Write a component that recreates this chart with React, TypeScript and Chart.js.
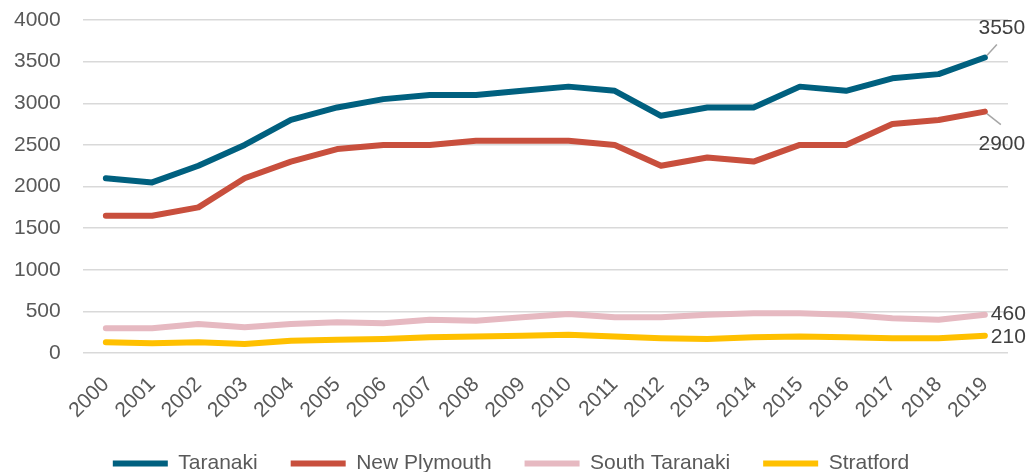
import React, { useEffect, useRef } from "react";
import { Chart, registerables } from "chart.js";

Chart.register(...registerables);

const years = ["2000","2001","2002","2003","2004","2005","2006","2007","2008","2009","2010","2011","2012","2013","2014","2015","2016","2017","2018","2019"];
const taranaki = [2100, 2050, 2250, 2500, 2800, 2950, 3050, 3100, 3100, 3150, 3200, 3150, 2850, 2950, 2950, 3200, 3150, 3300, 3350, 3550];
const newPlymouth = [1650, 1650, 1750, 2100, 2300, 2450, 2500, 2500, 2550, 2550, 2550, 2500, 2250, 2350, 2300, 2500, 2500, 2750, 2800, 2900];
const southTaranaki = [300, 300, 350, 310, 350, 370, 360, 400, 390, 430, 470, 430, 430, 460, 480, 480, 460, 420, 400, 460];
const stratford = [130, 120, 130, 110, 150, 160, 170, 190, 200, 210, 220, 200, 180, 170, 190, 200, 190, 180, 180, 210];
const seriesNames = ["Taranaki", "New Plymouth", "South Taranaki", "Stratford"];
const seriesColors = ["#00607F", "#C84F3D", "#E6B9C1", "#FFC000"];
const yTicks = [0, 500, 1000, 1500, 2000, 2500, 3000, 3500, 4000];

const FONT = "'Liberation Sans', Arial, sans-serif";
const TEXT = "#595959";

// label placement for the last point of each series (style only)
const endLabelStyle = [
  { dx: 17, dy: -29, align: "center", leader: [2, -2, 12, -13] },
  { dx: 17, dy: 33, align: "center", leader: [2, 2, 16, 13] },
  { dx: 6, dy: -1, align: "left", leader: null },
  { dx: 6, dy: 2, align: "left", leader: null },
];

const endLabelsPlugin = {
  id: "endLabels",
  afterDatasetsDraw(chart: any) {
    const ctx = chart.ctx;
    ctx.save();
    chart.data.datasets.forEach((ds: any, i: number) => {
      const meta = chart.getDatasetMeta(i);
      const last = meta.data.length - 1;
      const pt = meta.data[last];
      const st = endLabelStyle[i];
      if (!pt || !st) return;
      if (st.leader) {
        ctx.strokeStyle = "#a6a6a6";
        ctx.lineWidth = 1.5;
        ctx.beginPath();
        ctx.moveTo(pt.x + st.leader[0], pt.y + st.leader[1]);
        ctx.lineTo(pt.x + st.leader[2], pt.y + st.leader[3]);
        ctx.stroke();
      }
      ctx.fillStyle = "#404040";
      ctx.font = `21px ${FONT}`;
      ctx.textAlign = st.align;
      ctx.textBaseline = "middle";
      ctx.fillText(String(ds.data[last]), pt.x + st.dx, pt.y + st.dy);
    });
    ctx.restore();
  },
};

export default function App() {
  const ref = useRef<HTMLCanvasElement | null>(null);
  useEffect(() => {
    if (!ref.current) return;
    const all = [taranaki, newPlymouth, southTaranaki, stratford];
    const chart = new Chart(ref.current, {
      type: "line",
      data: {
        labels: years,
        datasets: all.map((d, i) => ({
          label: seriesNames[i],
          data: d,
          borderColor: seriesColors[i],
          backgroundColor: seriesColors[i],
          borderWidth: 6,
          borderCapStyle: "round",
          borderJoinStyle: "round",
          pointRadius: 0,
          tension: 0,
        })),
      },
      options: {
        animation: false,
        responsive: false,
        maintainAspectRatio: false,
        layout: { padding: { left: 14, right: 23, top: 20, bottom: -12 } },
        plugins: {
          tooltip: { enabled: false },
          legend: {
            position: "bottom",
            labels: {
              usePointStyle: true,
              pointStyle: "line",
              pointStyleWidth: 55,
              padding: 33,
              color: TEXT,
              font: { family: FONT, size: 21 },
            },
          },
        },
        scales: {
          x: {
            type: "category",
            offset: true,
            grid: { display: false, drawTicks: false },
            border: { display: false },
            afterFit: (axis: any) => {
              axis.height -= 22;
            },
            ticks: {
              autoSkip: false,
              minRotation: 45,
              maxRotation: 45,
              padding: 19,
              color: TEXT,
              font: { family: FONT, size: 21 },
            },
          },
          y: {
            min: 0,
            max: 4000,
            afterBuildTicks: (axis: any) => {
              axis.ticks = yTicks.map((v) => ({ value: v }));
            },
            grid: {
              color: "#d9d9d9",
              lineWidth: 1.5,
              drawTicks: true,
              tickLength: 22,
              tickColor: "rgba(0,0,0,0)",
            },
            border: { display: false },
            ticks: {
              padding: 0,
              color: TEXT,
              font: { family: FONT, size: 21 },
              callback: (v: any) => String(v),
            },
          },
        },
      },
      plugins: [endLabelsPlugin],
    } as any);
    return () => chart.destroy();
  }, []);
  return (
    <div style={{ position: "absolute", left: 0, top: 0, width: 1031, height: 472, background: "#fff" }}>
      <canvas ref={ref} width={1031} height={472} style={{ display: "block" }} />
    </div>
  );
}
